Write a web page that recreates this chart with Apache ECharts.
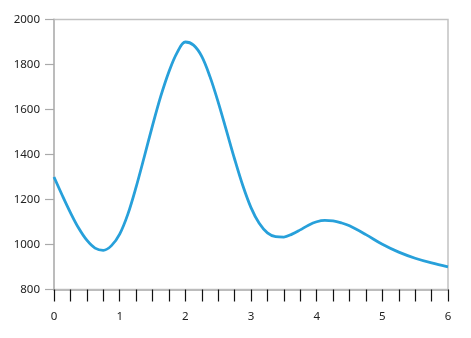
<!DOCTYPE html>
<html>
<head>
<meta charset="utf-8">
<script src="https://cdn.jsdelivr.net/npm/echarts@6/dist/echarts.min.js"></script>
<style>html,body{margin:0;padding:0;background:#fff;}#c{width:471px;height:338px;}</style>
</head>
<body>
<div id="c"></div>
<script>
var xValues = [0, 0.125, 0.25, 0.375, 0.5, 0.625, 0.75, 0.875, 1, 1.125, 1.25, 1.375, 1.5, 1.625, 1.75, 1.875, 2, 2.125, 2.25, 2.375, 2.5, 2.625, 2.75, 2.875, 3, 3.125, 3.25, 3.375, 3.5, 3.625, 3.75, 3.875, 4, 4.125, 4.25, 4.375, 4.5, 4.75, 5, 5.25, 5.5, 5.75, 6];
var yValues = [1300, 1219, 1142, 1073, 1019, 984, 974, 995, 1046, 1135, 1255, 1390, 1528, 1658, 1768, 1853, 1900, 1886, 1836, 1746, 1633, 1507, 1380, 1262, 1164, 1094, 1052, 1035, 1033, 1046, 1065, 1086, 1101, 1107, 1105, 1096, 1083, 1044, 1001, 966, 939, 918, 901];
var xTickLabels = ['0', '1', '2', '3', '4', '5', '6'];
var yTickLabels = ['800', '1000', '1200', '1400', '1600', '1800', '2000'];

var chart = echarts.init(document.getElementById('c'), null, {renderer: 'canvas'});
var font = '"Noto Sans", "Open Sans", sans-serif';
chart.setOption({
  animation: false,
  grid: {left: 54, right: 23, top: 19.5, bottom: 48.5, show: true, borderColor: '#c2c2c2', borderWidth: 1.5, backgroundColor: 'transparent'},
  xAxis: {
    type: 'value', min: 0, max: 6, interval: 1,
    axisLine: {show: true, lineStyle: {color: '#bcbcbc', width: 2}},
    axisTick: {show: true, length: 12, lineStyle: {color: '#111', width: 1.2}},
    minorTick: {show: true, splitNumber: 4, length: 12, lineStyle: {color: '#111', width: 1.2}},
    splitLine: {show: false},
    axisLabel: {margin: 21, color: '#222', fontSize: 11.5, fontFamily: font,
      formatter: function (v) { return xTickLabels[Math.round(v)]; }}
  },
  yAxis: {
    type: 'value', min: 800, max: 2000, interval: 200,
    axisLine: {show: true, lineStyle: {color: '#bcbcbc', width: 2}},
    axisTick: {show: true, length: 9, lineStyle: {color: '#aaa', width: 1.2}},
    splitLine: {show: false},
    axisLabel: {margin: 14, color: '#222', fontSize: 11.5, fontFamily: font,
      formatter: function (v) { return yTickLabels[Math.round((v - 800) / 200)]; }}
  },
  series: [{
    type: 'line',
    data: xValues.map(function (x, i) { return [x, yValues[i]]; }),
    smooth: 0.35,
    showSymbol: false,
    lineStyle: {color: '#27a0da', width: 2.8}
  }]
});
</script>
</body>
</html>
